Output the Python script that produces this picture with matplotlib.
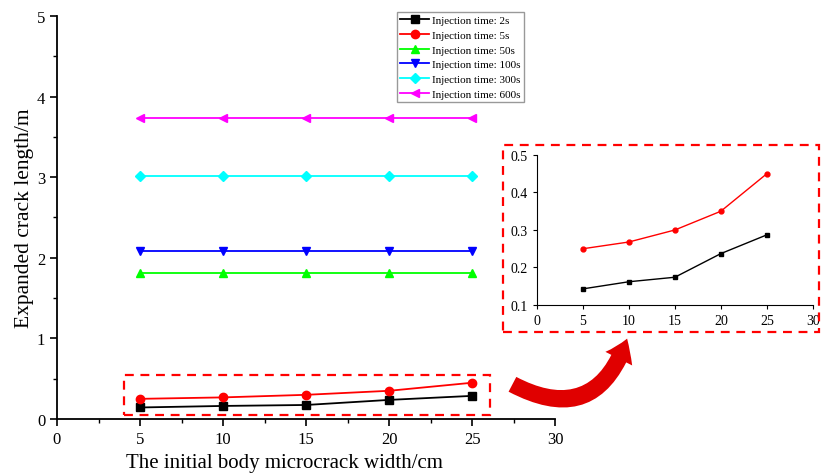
import matplotlib.pyplot as plt
from matplotlib.patches import Rectangle, FancyArrowPatch
from matplotlib.ticker import MultipleLocator

plt.rcParams['font.family'] = ['Liberation Serif', 'DejaVu Serif']

widths = [5, 10, 15, 20, 25]
t_2s = [0.143, 0.162, 0.174, 0.237, 0.287]
t_5s = [0.25, 0.268, 0.30, 0.35, 0.45]
t_50s = [1.81, 1.81, 1.81, 1.81, 1.81]
t_100s = [2.09, 2.09, 2.09, 2.09, 2.09]
t_300s = [3.02, 3.02, 3.02, 3.02, 3.02]
t_600s = [3.73, 3.73, 3.73, 3.73, 3.73]

labels = ['Injection time: 2s', 'Injection time: 5s', 'Injection time: 50s',
          'Injection time: 100s', 'Injection time: 300s', 'Injection time: 600s']
series = [t_2s, t_5s, t_50s, t_100s, t_300s, t_600s]
colors = ['black', 'red', '#00ff00', 'blue', 'cyan', 'magenta']
markers = ['s', 'o', '^', 'v', 'D', '<']

fig = plt.figure(figsize=(8.21, 4.77), dpi=100)
ax = fig.add_axes([0.0694, 0.1195, 0.607, 0.845])

for ys, lab, c, m in zip(series, labels, colors, markers):
    ms = 5 if m == 'D' else 6
    ax.plot(widths, ys, color=c, marker=m, markersize=ms, lw=1.3, label=lab)

ax.set_xlim(0, 30)
ax.set_ylim(0, 5)
ax.xaxis.set_major_locator(MultipleLocator(5))
ax.xaxis.set_minor_locator(MultipleLocator(2.5))
ax.yaxis.set_major_locator(MultipleLocator(1))
ax.yaxis.set_minor_locator(MultipleLocator(0.5))
ax.spines['top'].set_visible(False)
ax.spines['right'].set_visible(False)
ax.spines['left'].set_linewidth(1.3)
ax.spines['bottom'].set_linewidth(1.3)
ax.tick_params(which='major', direction='out', length=5, width=1.2, labelsize=12)
ax.tick_params(which='minor', direction='out', length=3, width=1.0)
ax.set_xlabel('The initial body microcrack width/cm', fontsize=15)
ax.xaxis.set_label_coords(0.456, -0.085)
ax.set_ylabel('Expanded crack length/m', fontsize=15.5, labelpad=2)

leg = ax.legend(loc='upper left', bbox_to_anchor=(0.682, 1.01), fontsize=8,
                frameon=True, fancybox=False, edgecolor='gray',
                handlelength=2.6, borderpad=0.3, labelspacing=0.45,
                handletextpad=0.3, borderaxespad=0)
leg.get_frame().set_linewidth(1.0)

# zoomed inset
ins = fig.add_axes([0.654, 0.3585, 0.336, 0.3145])
ins.plot(widths, t_2s, color='black', marker='s', markersize=3.5, lw=1.0)
ins.plot(widths, t_5s, color='red', marker='o', markersize=3.5, lw=1.0)
ins.set_xlim(0, 30)
ins.set_ylim(0.1, 0.5)
ins.xaxis.set_major_locator(MultipleLocator(5))
ins.yaxis.set_major_locator(MultipleLocator(0.1))
ins.spines['top'].set_visible(False)
ins.spines['right'].set_visible(False)
ins.tick_params(direction='out', length=3, labelsize=10)

# dashed highlight boxes
fig.patches.append(Rectangle((124 / 821, 1 - 416 / 477), (490 - 124) / 821, (416 - 376) / 477,
                             transform=fig.transFigure, fill=False, ec='red',
                             ls=(0, (4, 3)), lw=1.6))
fig.patches.append(Rectangle((503 / 821, 1 - 333 / 477), (819 - 503) / 821, (333 - 146) / 477,
                             transform=fig.transFigure, fill=False, ec='red',
                             ls=(0, (4, 3)), lw=1.6))

arrow = FancyArrowPatch((510 / 821, 1 - 384 / 477), (628 / 821, 1 - 337 / 477),
                        transform=fig.transFigure, connectionstyle='arc3,rad=0.6',
                        arrowstyle='simple,head_width=1.8,head_length=1.3,tail_width=1.0',
                        mutation_scale=12, color='#e00000', lw=0)
fig.patches.append(arrow)

fig.savefig('out.png', dpi=100)
